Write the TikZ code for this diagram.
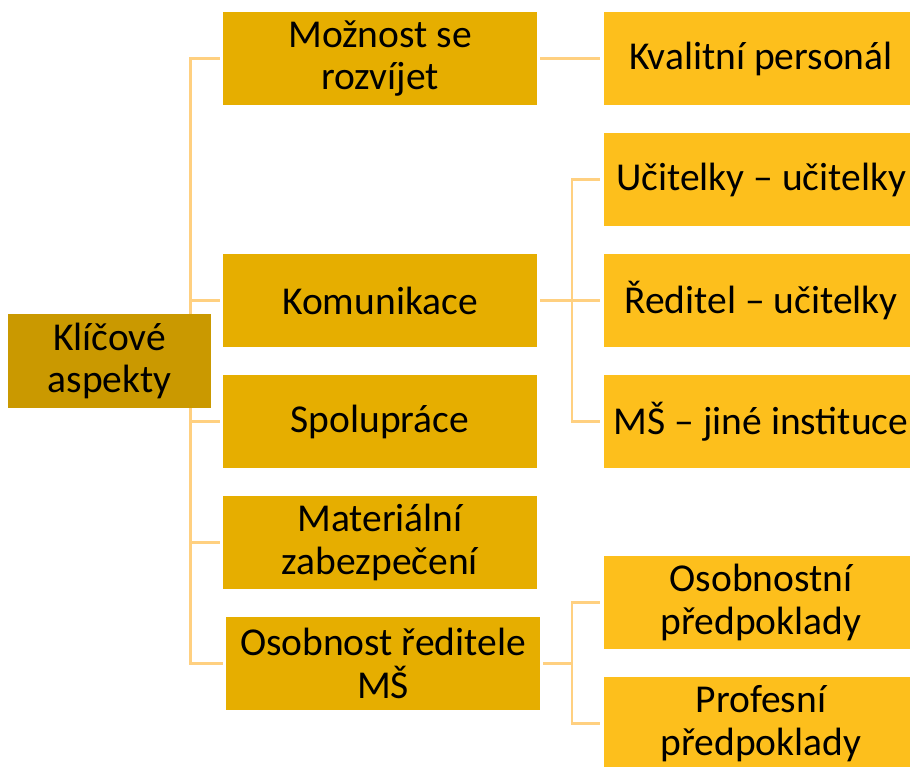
\documentclass[tikz,border=0pt]{standalone}
\usepackage{fontspec}
\setmainfont{Carlito}
\usetikzlibrary{math,backgrounds}
\definecolor{rootgold}{RGB}{202,153,0}
\definecolor{midgold}{RGB}{230,174,0}
\definecolor{leafgold}{RGB}{253,191,28}
\definecolor{linkpeach}{RGB}{255,208,128}

\tikzset{
box/.style={inner sep=0pt, align=center, font=\fontsize{39.5}{42.5}\selectfont},
rootbox/.style={box, fill=rootgold, minimum width=203pt, minimum height=94pt},
midbox/.style={box, fill=midgold, minimum width=314pt, minimum height=93pt},
leafbox/.style={box, fill=leafgold, minimum width=314pt, minimum height=93pt},
link/.style={draw=linkpeach, line width=2.2pt},
}

\begin{document}
\begin{tikzpicture}[x=1pt,y=-1pt]
\tikzmath{
\xmid=380;
\xleaf=761;
\xbus=190.5;
\xsub=572;
}
\useasboundingbox (0,0) rectangle (910,766);
\clip (0,0) rectangle (910,766);

\node[rootbox] (root) at (109.5,361) {Klíčové\\aspekty};

\node[midbox] (rozvoj) at (\xmid,58.5) {Možnost se\\rozvíjet};
\node[midbox] (komunikace) at (\xmid,300.5) {Komunikace};
\node[midbox] (spoluprace) at (\xmid,421.5) {Spolupráce};
\node[midbox] (material) at (\xmid,542.5) {Materiální\\zabezpečení};
\node[midbox] (reditel) at (\xmid+3,663.5) {Osobnost ředitele\\MŠ};

\node[leafbox] (personal) at (\xleaf,58.5) {Kvalitní personál};
\node[leafbox] (ucitelky) at (\xleaf,179.5) {Učitelky – učitelky};
\node[leafbox] (vedeni) at (\xleaf,300.5) {Ředitel – učitelky};
\node[leafbox] (instituce) at (\xleaf,421.5) {MŠ – jiné instituce};
\node[leafbox] (osobnostni) at (\xleaf,602.5) {Osobnostní\\předpoklady};
\node[leafbox] (profesni) at (\xleaf,723.5) {Profesní\\předpoklady};

\begin{scope}[on background layer]
\coordinate (rootbus) at (\xbus,361);
\coordinate (kombus) at (\xsub,300.5);
\coordinate (redbus) at (\xsub,663.5);

\foreach \n in {rozvoj,komunikace,spoluprace,material,reditel}
  \draw[link, shorten >=3pt] (rootbus) |- (\n.west);

\draw[link, shorten <=3pt, shorten >=4pt] (rozvoj) -- (personal);

\draw[link, shorten <=3pt] (komunikace.east) -- (kombus);
\foreach \n in {ucitelky,vedeni,instituce}
  \draw[link, shorten >=4pt] (kombus) |- (\n.west);

\draw[link, shorten <=3pt] (reditel.east) -- (redbus);
\foreach \n in {osobnostni,profesni}
  \draw[link, shorten >=4pt] (redbus) |- (\n.west);
\end{scope}
\end{tikzpicture}
\end{document}
